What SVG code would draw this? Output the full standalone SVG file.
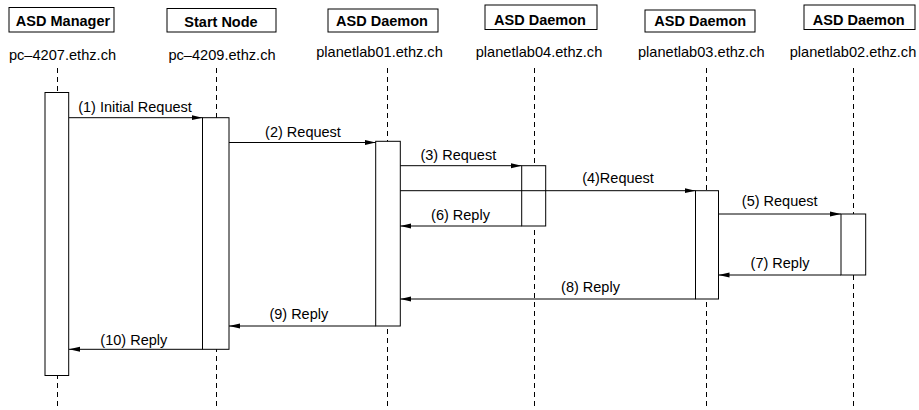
<svg xmlns="http://www.w3.org/2000/svg" width="919" height="410" viewBox="0 0 919 410">
  <style>
    .hdr { fill: #fff; stroke: #000; stroke-width: 1; }
    .hdr-t { font-family: "Liberation Sans", Arial, sans-serif; font-weight: bold; font-size: 14.5px; text-anchor: middle; fill: #000; }
    .host { font-family: "Liberation Sans", Arial, sans-serif; font-size: 14.6px; text-anchor: middle; fill: #000; }
    .life { stroke: #000; stroke-width: 1; stroke-dasharray: 5 4; fill: none; }
    .act { fill: #fff; stroke: #000; stroke-width: 1; }
    .msg { stroke: #000; stroke-width: 1; fill: none; marker-end: url(#head); }
    .msg-t { font-family: "Liberation Sans", Arial, sans-serif; font-size: 14.5px; text-anchor: middle; fill: #000; }
  </style>
  <defs>
    <marker id="head" markerUnits="userSpaceOnUse" markerWidth="12" markerHeight="6" refX="11" refY="3" orient="auto">
      <path d="M0,0.5 L11,3 L0,5.5 z" fill="#000"/>
    </marker>
  </defs>
  <rect width="919" height="410" fill="#fff"/>

  <!-- participants: header, host name, lifeline, activation -->
  <g id="manager">
    <rect class="hdr" x="9" y="7.5" width="105" height="24.5"/>
    <text class="hdr-t" x="63" y="26">ASD Manager</text>
    <text class="host" x="62.5" y="59.5">pc–4207.ethz.ch</text>
    <line class="life" x1="57.5" y1="68" x2="57.5" y2="410"/>
    <rect class="act" x="45" y="92.5" width="23.7" height="283"/>
  </g>
  <g id="start-node">
    <rect class="hdr" x="167" y="8.5" width="109" height="23.5"/>
    <text class="hdr-t" x="221" y="26.5">Start Node</text>
    <text class="host" x="222" y="59.5">pc–4209.ethz.ch</text>
    <line class="life" x1="216.5" y1="68" x2="216.5" y2="410"/>
    <rect class="act" x="202.5" y="117.7" width="26.5" height="231.6"/>
  </g>
  <g id="daemon-planetlab01">
    <rect class="hdr" x="328" y="9" width="110" height="23"/>
    <text class="hdr-t" x="382" y="26">ASD Daemon</text>
    <text class="host" x="379.5" y="57">planetlab01.ethz.ch</text>
    <line class="life" x1="387.5" y1="68" x2="387.5" y2="410"/>
    <rect class="act" x="375.7" y="141.3" width="24.6" height="184.7"/>
  </g>
  <g id="daemon-planetlab04">
    <rect class="hdr" x="485" y="5" width="112" height="24.5"/>
    <text class="hdr-t" x="540" y="25">ASD Daemon</text>
    <text class="host" x="539" y="57">planetlab04.ethz.ch</text>
    <line class="life" x1="534.5" y1="68" x2="534.5" y2="410"/>
    <rect class="act" x="521.7" y="165.7" width="24" height="60.3"/>
  </g>
  <g id="daemon-planetlab03">
    <rect class="hdr" x="645" y="10" width="110" height="22"/>
    <text class="hdr-t" x="700.3" y="26">ASD Daemon</text>
    <text class="host" x="701.3" y="57">planetlab03.ethz.ch</text>
    <line class="life" x1="706.5" y1="68" x2="706.5" y2="410"/>
    <rect class="act" x="695.5" y="190.7" width="23" height="108.3"/>
  </g>
  <g id="daemon-planetlab02">
    <rect class="hdr" x="804" y="5" width="111" height="24.5"/>
    <text class="hdr-t" x="858.7" y="25">ASD Daemon</text>
    <text class="host" x="853" y="57">planetlab02.ethz.ch</text>
    <line class="life" x1="853.5" y1="68" x2="853.5" y2="410"/>
    <rect class="act" x="841" y="214" width="24.7" height="61"/>
  </g>

  <!-- messages -->
  <g id="messages">
    <line class="msg" x1="69" y1="117.7" x2="202.5" y2="117.7"/>
    <text class="msg-t" x="135" y="112.3">(1) Initial Request</text>

    <line class="msg" x1="229" y1="142.5" x2="375.7" y2="142.5"/>
    <text class="msg-t" x="303" y="136.5">(2) Request</text>

    <line class="msg" x1="400.3" y1="165.7" x2="521.7" y2="165.7"/>
    <text class="msg-t" x="458.3" y="159.5">(3) Request</text>

    <line class="msg" x1="400.3" y1="190.7" x2="695.5" y2="190.7"/>
    <text class="msg-t" x="618" y="182.7">(4)Request</text>

    <line class="msg" x1="718.5" y1="214" x2="841" y2="214"/>
    <text class="msg-t" x="779.7" y="206">(5) Request</text>

    <line class="msg" x1="521.7" y1="226" x2="400.3" y2="226"/>
    <text class="msg-t" x="460.5" y="220">(6) Reply</text>

    <line class="msg" x1="841" y1="275" x2="718.5" y2="275"/>
    <text class="msg-t" x="780" y="268.3">(7) Reply</text>

    <line class="msg" x1="695.5" y1="299" x2="400.3" y2="299"/>
    <text class="msg-t" x="590.5" y="291.7">(8) Reply</text>

    <line class="msg" x1="375.7" y1="326" x2="229" y2="326"/>
    <text class="msg-t" x="298.8" y="319">(9) Reply</text>

    <line class="msg" x1="202.5" y1="349.3" x2="69" y2="349.3"/>
    <text class="msg-t" x="133.8" y="345">(10) Reply</text>
  </g>
</svg>
